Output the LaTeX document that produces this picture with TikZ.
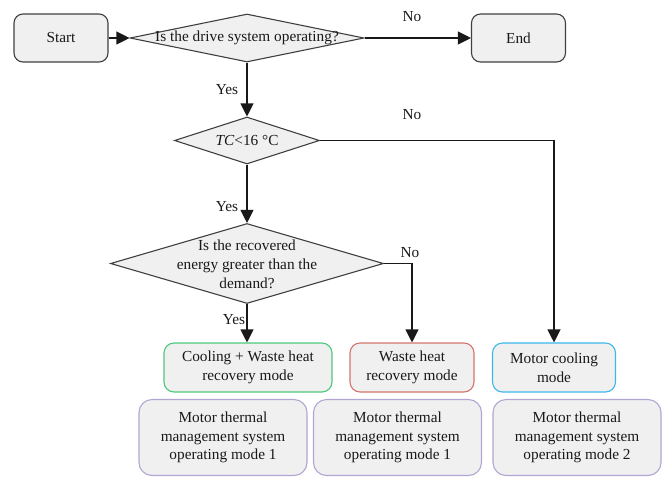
\documentclass[tikz,border=0pt]{standalone}
\usepackage{fontspec}
\setmainfont{LiberationSerif}[Extension=.ttf, UprightFont=*-Regular, ItalicFont=*-Italic, BoldFont=*-Bold]
\usetikzlibrary{shapes.geometric,arrows.meta}
\definecolor{boxfill}{HTML}{F0F0F0}
\definecolor{edge}{HTML}{404040}
\definecolor{cgreen}{HTML}{4CC97A}
\definecolor{cred}{HTML}{D2756C}
\definecolor{cblue}{HTML}{3BB8EA}
\definecolor{cpurple}{HTML}{B3A5D1}
\tikzset{
  base/.style={font=\rmfamily\fontsize{15.3}{18.8}\selectfont, text=black!90, align=center, inner sep=0pt},
  term/.style={base, draw=edge, line width=1.1pt, fill=boxfill, rounded corners=9pt, minimum width=94pt, minimum height=48pt},
  dia/.style={diamond, draw=edge, line width=1.1pt, fill=boxfill, inner sep=0pt},
  mode/.style={base, fill=boxfill, line width=1.1pt, rounded corners=10pt, minimum height=49pt},
  sysbox/.style={base, draw=cpurple, fill=boxfill, line width=1.1pt, rounded corners=13pt, minimum width=168pt, minimum height=76pt},
  lbl/.style={base},
  conn/.style={draw=black!90, line width=1.1pt},
  arr/.style={conn, -{Triangle[length=13pt,width=13pt]}}
}
\begin{document}
\begin{tikzpicture}[x=1pt,y=-1pt]
\useasboundingbox (0,0) rectangle (666,477);
% nodes
\node[term] (start) at (61,38) {Start};
\node[term] (end) at (518.5,38) {End};
\node[dia, minimum width=234pt, minimum height=48pt] (d1) at (247,38) {};
\node[lbl] (d1t) at (247,38) {Is the drive system operating?};
\node[dia, minimum width=145pt, minimum height=47pt] (d2) at (247,140.5) {};
\node[lbl] (d2t) at (247,140.5) {\textit{TC}<16 °C};
\node[dia, minimum width=273pt, minimum height=80pt] (d3) at (247,263.5) {};
\node[lbl] (d3t) at (247,264) {Is the recovered\\energy greater than the\\demand?};
\node[mode, draw=cgreen, minimum width=168pt] (green) at (248,367.5) {Cooling + Waste heat\\recovery mode};
\node[mode, draw=cred, minimum width=124pt] (red) at (412,367.5) {Waste heat\\recovery mode};
\node[mode, draw=cblue, minimum width=123pt] (blue) at (554,367.5) {Motor cooling\\mode};
\node[sysbox] (s1) at (223,437.5) {Motor thermal\\management system\\operating mode 1};
\node[sysbox] (s2) at (397.5,437.5) {Motor thermal\\management system\\operating mode 1};
\node[sysbox] (s3) at (577,437.5) {Motor thermal\\management system\\operating mode 2};
% connectors
\draw[arr] (start.east) -- (d1.west);
\draw[arr] (d1.east) -- (end.west);
\draw[arr] (d1.south) -- (d2.north);
\draw[arr] (d2.east) -| (blue.north);
\draw[arr] (d2.south) -- (d3.north);
\draw[arr] (d3.east) -| (red.north);
\draw[arr] (d3.south) -- (d3.south |- green.north);
% labels
\node[lbl] (no1) at (412,17) {No};
\node[lbl] (yes1) at (227,90) {Yes};
\node[lbl] (no2) at (412,115) {No};
\node[lbl] (yes2) at (227,207) {Yes};
\node[lbl] (no3) at (410,253) {No};
\node[lbl] (yes3) at (234,320) {Yes};
\end{tikzpicture}
\end{document}
